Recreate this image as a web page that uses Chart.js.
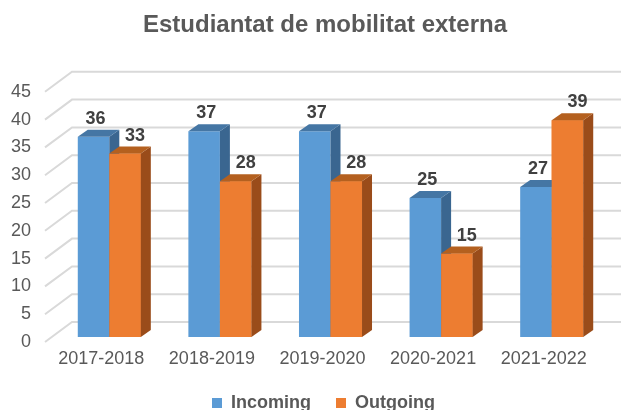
<!DOCTYPE html>
<html>
<head>
<meta charset="utf-8">
<script src="https://cdn.jsdelivr.net/npm/chart.js@4.4.0/dist/chart.umd.min.js"></script>
<style>
  html, body { margin: 0; padding: 0; background: #fff; }
  #wrap { width: 621px; height: 410px; }
</style>
</head>
<body>
<div id="wrap"><canvas id="c" width="621" height="410"></canvas></div>
<script>
const categories = ['2017-2018', '2018-2019', '2019-2020', '2020-2021', '2021-2022'];
const incoming = [36, 37, 37, 25, 27];
const outgoing = [33, 28, 28, 15, 39];
const yTicks = [0, 5, 10, 15, 20, 25, 30, 35, 40, 45];

const FONT = "'Liberation Sans', Arial, sans-serif";
const faces = [
  { top: '#4576A4', side: '#3A6690', labelDx: 2 },
  { top: '#B4601F', side: '#9A4C1A', labelDx: 10 }
];
const DX = 10, DY = -7;

const threeD = {
  id: 'threeD',
  afterLayout(chart) {
    if (chart.titleBlock) chart.titleBlock.left += 43;
    if (chart.legend) chart.legend.left += 40;
  },
  beforeDatasetsDraw(chart) {
    const ctx = chart.ctx;
    const y = chart.scales.y;
    const a = chart.chartArea;
    ctx.save();
    ctx.strokeStyle = '#D9D9D9';
    ctx.lineWidth = 2;
    yTicks.forEach(v => {
      const py = y.getPixelForValue(v);
      ctx.beginPath();
      ctx.moveTo(a.left - 9, py + 5);
      ctx.lineTo(a.left + 18, py - 15);
      ctx.lineTo(621, py - 15);
      ctx.stroke();
    });
    ctx.restore();
  },
  afterDatasetsDraw(chart) {
    const ctx = chart.ctx;
    ctx.save();
    [0, 1].forEach(di => {
      const meta = chart.getDatasetMeta(di);
      meta.data.forEach(el => {
        if (di === 1) el.draw(ctx);
        const l = el.x - el.width / 2, r = el.x + el.width / 2;
        const t = el.y, b = el.base;
        ctx.fillStyle = faces[di].side;
        ctx.beginPath();
        ctx.moveTo(r, t); ctx.lineTo(r + DX, t + DY); ctx.lineTo(r + DX, b + DY); ctx.lineTo(r, b);
        ctx.closePath(); ctx.fill();
        ctx.fillStyle = faces[di].top;
        ctx.beginPath();
        ctx.moveTo(l, t); ctx.lineTo(l + DX, t + DY); ctx.lineTo(r + DX, t + DY); ctx.lineTo(r, t);
        ctx.closePath(); ctx.fill();
      });
    });
    ctx.font = 'bold 18px ' + FONT;
    ctx.fillStyle = '#404040';
    ctx.textAlign = 'center';
    ctx.textBaseline = 'alphabetic';
    [0, 1].forEach(di => {
      const meta = chart.getDatasetMeta(di);
      const data = chart.data.datasets[di].data;
      meta.data.forEach((el, i) => {
        ctx.fillText(String(data[i]), el.x + faces[di].labelDx, el.y - 13);
      });
    });
    ctx.restore();
  }
};

new Chart(document.getElementById('c'), {
  type: 'bar',
  data: {
    labels: categories,
    datasets: [
      { label: 'Incoming', data: incoming, backgroundColor: '#5B9BD5', borderWidth: 0 },
      { label: 'Outgoing', data: outgoing, backgroundColor: '#ED7D31', borderWidth: 0 }
    ]
  },
  options: {
    responsive: false,
    animation: false,
    devicePixelRatio: 1,
    layout: { padding: { left: 0, right: 14, top: 0, bottom: -12 } },
    datasets: { bar: { categoryPercentage: 0.57, barPercentage: 1 } },
    scales: {
      x: {
        grid: { display: false, drawTicks: false },
        border: { display: false },
        ticks: { color: '#595959', font: { family: FONT, size: 18 }, padding: 11, labelOffset: -8, maxRotation: 0 },
        afterFit(s) { s.height = 32; }
      },
      y: {
        min: 0, max: 45,
        grid: { display: false, drawTicks: false },
        border: { display: false },
        ticks: { stepSize: 5, color: '#595959', font: { family: FONT, size: 18 }, padding: 23, labelOffset: 5 },
        afterFit(s) { s.width = 54; }
      }
    },
    plugins: {
      title: {
        display: true,
        text: 'Estudiantat de mobilitat externa',
        color: '#595959',
        font: { family: FONT, size: 24, weight: 'bold' },
        padding: { top: 11, bottom: 47 }
      },
      legend: {
        position: 'bottom',
        labels: {
          color: '#595959',
          font: { family: FONT, size: 18, weight: 'bold' },
          boxWidth: 10, boxHeight: 10,
          padding: 25
        }
      },
      tooltip: { enabled: false }
    }
  },
  plugins: [threeD]
});
</script>
</body>
</html>
